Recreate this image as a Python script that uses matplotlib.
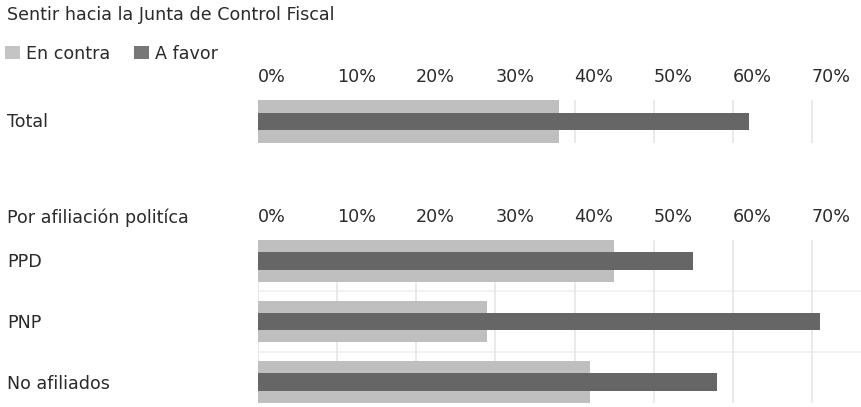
import matplotlib
matplotlib.use("Agg")
import matplotlib.pyplot as plt
from matplotlib.patches import Patch

# ---- data ----
title = "Sentir hacia la Junta de Control Fiscal"
series_names = ["En contra", "A favor"]
total_label = "Total"
total_contra = [38]
total_favor = [62]
section_label = "Por afiliación politíca"
groups = ["PPD", "PNP", "No afiliados"]
groups_contra = [45, 29, 42]
groups_favor = [55, 71, 58]
tick_values = [0, 10, 20, 30, 40, 50, 60, 70]
tick_labels = ["0%", "10%", "20%", "30%", "40%", "50%", "60%", "70%"]

# ---- style ----
W, H = 862, 407
DPI = 100
FONT = "DejaVu Sans"
FS = 12.6
TXT = "#2b2b2b"
LIGHT = "#bfbfbf"
DARK = "#666666"
GRID = "#e6e6e6"
plt.rcParams["font.family"] = [FONT]

fig = plt.figure(figsize=(W / DPI, H / DPI), dpi=DPI)
fig.patch.set_facecolor("white")

x0 = 257.7
px_per_unit = 7.92
xmax = (W - x0) / px_per_unit


def add_ax(top, bottom):
    return fig.add_axes([x0 / W, 1 - bottom / H, (W - x0) / W, (bottom - top) / H])


def style(ax, cats, contra, favor, half):
    n = len(cats)
    ys = list(range(n))
    ax.barh(ys, contra, height=2 * half, color=LIGHT, zorder=2)
    ax.barh(ys, favor, height=0.285, color=DARK, zorder=3)
    ax.set_xlim(0, xmax)
    ax.set_ylim(n - 1 + half, -half)
    ax.set_yticks([])
    ax.xaxis.tick_top()
    ax.set_xticks(tick_values)
    ax.set_xticklabels(tick_labels, ha="left", fontsize=FS, color=TXT)
    ax.tick_params(axis="x", length=0, pad=10)
    ax.grid(axis="x", color=GRID, linewidth=1.2, zorder=1)
    for i in range(n - 1):
        ax.axhline(i + 0.5, color="#f0f0f0", linewidth=1.2, zorder=1)
    for s in ax.spines.values():
        s.set_visible(False)
    ax.set_facecolor("none")


ax1 = add_ax(100, 143)
style(ax1, [total_label], total_contra, total_favor, 0.35)
ax2 = add_ax(240, 403)
style(ax2, groups, groups_contra, groups_favor, 0.345)

# labels
def ftext(x, y, s, **kw):
    fig.text(x / W, 1 - y / H, s, fontsize=FS, color=TXT, va="center", ha="left", **kw)

ftext(7, 15, title)
ftext(7, 122, total_label)
ftext(7, 218, section_label)
for lab, yc in zip(groups, [262, 323, 384]):
    ftext(7, yc, lab)

handles = [Patch(facecolor="#c4c4c4", edgecolor="none"), Patch(facecolor="#777777", edgecolor="none")]
leg = fig.legend(handles, series_names, loc="center left",
                 bbox_to_anchor=(5 / W, 1 - 54 / H), ncol=2, frameon=False,
                 fontsize=FS, handlelength=0.83, handleheight=0.78,
                 handletextpad=0.35, columnspacing=1.4, borderpad=0, borderaxespad=0)
for t in leg.get_texts():
    t.set_color(TXT)

fig.savefig("out.png", dpi=DPI, facecolor="white")
